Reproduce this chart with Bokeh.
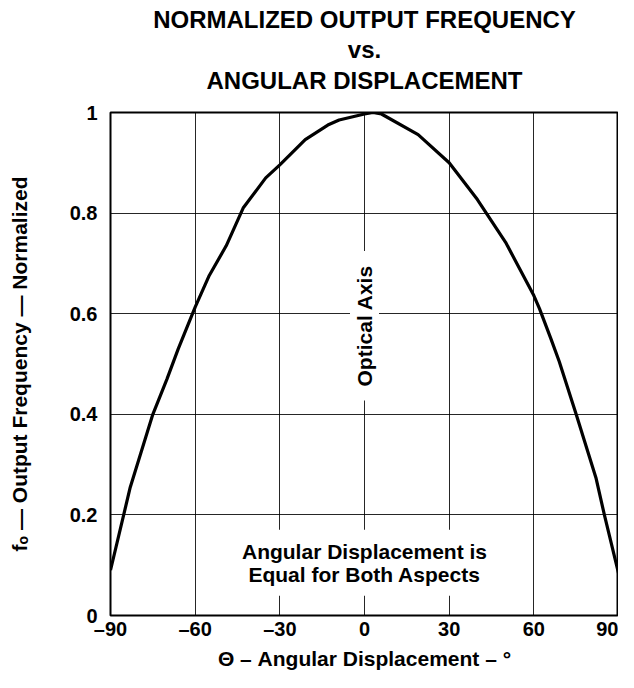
import math
from bokeh.plotting import figure
from bokeh.models import Label, FixedTicker, Title
from bokeh.embed import file_html
from bokeh.resources import INLINE

# ---- data ----
angle_deg = [-90, -83, -75, -70, -66, -60, -55, -49, -43, -35, -30, -21, -13, -9,
             0, 3, 6, 19, 30, 40, 50, 60, 62, 66, 69, 75, 82, 85, 90]
freq_norm = [0.09, 0.255, 0.40, 0.47, 0.53, 0.613, 0.676, 0.735, 0.81, 0.87, 0.896, 0.946, 0.975, 0.985,
             0.997, 1.0, 0.997, 0.956, 0.90, 0.827, 0.742, 0.636, 0.61, 0.551, 0.505, 0.40, 0.274, 0.20, 0.084]

x_ticks = [-90, -60, -30, 0, 30, 60, 90]
x_tick_labels = ["–90", "–60", "–30", "0", "30", "60", "90"]
y_ticks = [0, 0.2, 0.4, 0.6, 0.8, 1.0]
y_tick_labels = ["0", "0.2", "0.4", "0.6", "0.8", "1"]

title_lines = ["NORMALIZED OUTPUT FREQUENCY", "vs.", "ANGULAR DISPLACEMENT"]
x_label = "Θ – Angular Displacement – °"
y_label = "fₒ — Output Frequency — Normalized"
axis_note = "Optical Axis"
aspect_note = "Angular Displacement is\nEqual for Both Aspects"

FONT = "Liberation Sans"

p = figure(width=618, height=672, x_range=(-90, 90), y_range=(0, 1),
           output_backend="svg", toolbar_location=None, title=None,
           min_border_left=110, min_border_right=0, min_border_top=112, min_border_bottom=54)

# spacer between frame and title block
p.add_layout(Title(text=" ", text_font_size="1px", standoff=16), "above")
# stacked title lines: first added is nearest the frame
for line, so in zip(reversed(title_lines), [0, 3, 0]):
    t = Title(text=line, align="center", text_font=FONT, text_font_size="24px",
              text_font_style="bold", text_color="black", standoff=so)
    p.add_layout(t, "above")

p.outline_line_color = "black"
p.outline_line_width = 2
p.background_fill_color = "white"
p.border_fill_color = "white"

# axes
for ax in (p.xaxis[0], p.yaxis[0]):
    ax.axis_line_color = None
    ax.major_tick_line_color = None
    ax.minor_tick_line_color = None
    ax.major_tick_out = 0
    ax.major_tick_in = 0
    ax.major_label_text_font = FONT
    ax.major_label_text_font_style = "bold"
    ax.major_label_text_font_size = "20px"
    ax.major_label_text_color = "black"
    ax.axis_label_text_font = FONT
    ax.axis_label_text_font_style = "bold"
    ax.axis_label_text_font_size = "21px"
    ax.axis_label_text_color = "black"

p.xaxis.ticker = FixedTicker(ticks=x_ticks)
p.xaxis.major_label_overrides = dict(zip(x_ticks, x_tick_labels))
p.xaxis.major_label_standoff = 2
p.xaxis.axis_label = x_label
p.xaxis.axis_label_standoff = 4

p.yaxis.ticker = FixedTicker(ticks=y_ticks)
p.yaxis.major_label_overrides = dict(zip(y_ticks, y_tick_labels))
p.yaxis.major_label_standoff = 13
p.yaxis.axis_label = y_label
p.yaxis.axis_label_standoff = 36

# grid
p.xgrid.ticker = FixedTicker(ticks=x_ticks)
p.ygrid.ticker = FixedTicker(ticks=y_ticks)
for g in (p.xgrid[0], p.ygrid[0]):
    g.grid_line_color = "black"
    g.grid_line_width = 1
    g.grid_line_alpha = 0.85

# curve
p.line(angle_deg, freq_norm, line_color="black", line_width=3.2)

# annotations
p.add_layout(Label(x=0, y=0.576, text=axis_note, angle=math.pi / 2,
                   text_align="center", text_baseline="middle",
                   text_font=FONT, text_font_style="bold", text_font_size="21px",
                   text_color="black", background_fill_color="white",
                   padding=dict(left=14, right=14, top=3, bottom=3)))

p.add_layout(Label(x=0, y=0.105, text=aspect_note,
                   text_align="center", text_baseline="middle",
                   text_font=FONT, text_font_style="bold", text_font_size="21px",
                   text_line_height=1.0, text_color="black",
                   background_fill_color="white", padding=10))

open("out.html", "w").write(file_html(p, INLINE))
